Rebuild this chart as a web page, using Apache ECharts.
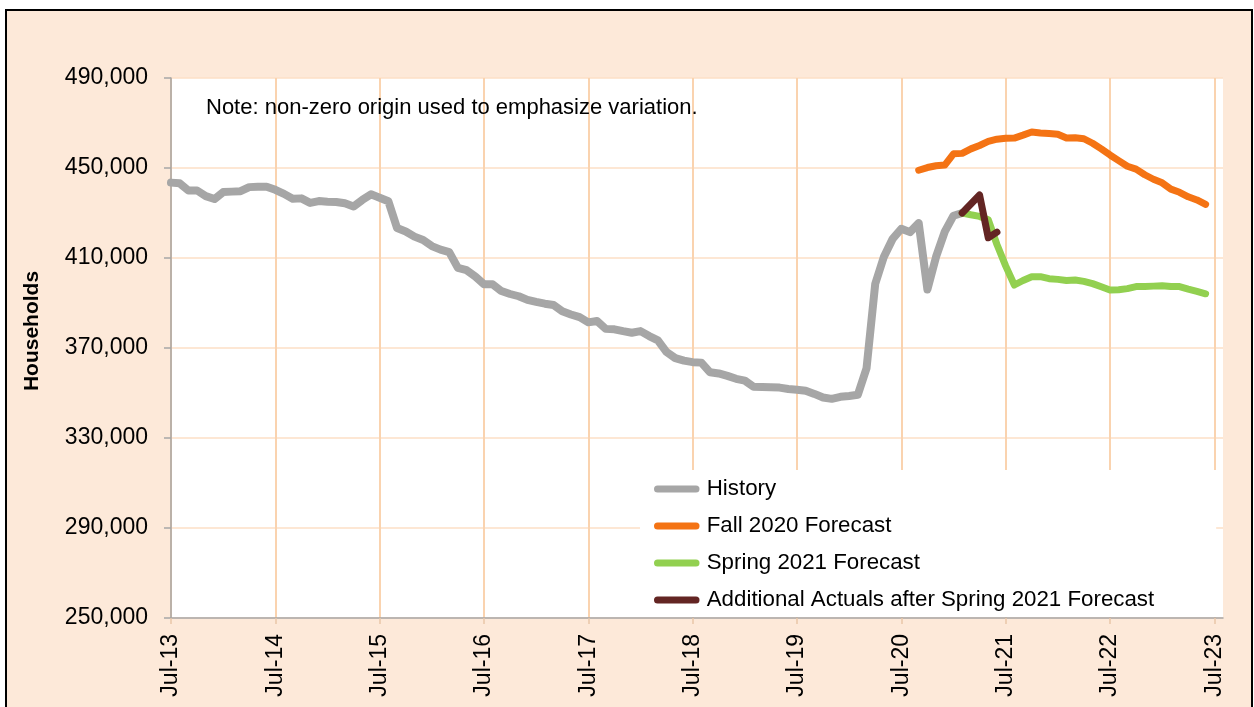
<!DOCTYPE html>
<html>
<head>
<meta charset="utf-8">
<script src="https://cdn.jsdelivr.net/npm/echarts@6/dist/echarts.min.js"></script>
<style>
  html, body { margin: 0; padding: 0; background: #fff; }
  #frame { position: absolute; left: 5px; top: 9px; width: 1244px; height: 720px; background: #FDE9D9; border: 2px solid #000; }
  #chart { position: absolute; left: 0; top: 0; width: 1254px; height: 707px; }
</style>
</head>
<body>
<div id="frame"></div>
<div id="chart"></div>
<script>
// monthly categories, Jul-13 .. Aug-23
const monthNames = ['Jan', 'Feb', 'Mar', 'Apr', 'May', 'Jun', 'Jul', 'Aug', 'Sep', 'Oct', 'Nov', 'Dec']
const categories = []
for (let k = 0; k < 122; k++) {
  const m = (6 + k) % 12
  const yy = 13 + Math.floor((6 + k) / 12)
  categories.push(monthNames[m] + '-' + yy)
}
const tickLabels = ['Jul-13', 'Jul-14', 'Jul-15', 'Jul-16', 'Jul-17', 'Jul-18', 'Jul-19', 'Jul-20', 'Jul-21', 'Jul-22', 'Jul-23']

// History: Jul-13 .. Feb-21
const history = [
  443500, 443200, 440000, 440000, 437500, 436200, 439300, 439500, 439700, 441500, 441700, 441700,
  440300, 438500, 436300, 436500, 434500, 435300, 435000, 434900, 434300, 432900, 435800, 438300,
  436800, 435200, 423300, 421800, 419500, 418000, 415300, 413700, 412600, 405600, 404600, 401800,
  398300, 398300, 395300, 394000, 393000, 391400, 390500, 389700, 389100, 386300, 384900, 383700,
  381400, 382000, 378500, 378300, 377500, 376800, 377500, 375300, 373400, 368200, 365500, 364400,
  363700, 363500, 359200, 358700, 357600, 356300, 355500, 352800, 352700, 352600, 352400, 351800,
  351400, 351000, 349600, 348000, 347400, 348300, 348700, 349200, 361000, 398500, 410600, 418500,
  423000, 421500, 425500, 396000, 410600, 421700, 428800, 430000
]
const historyStart = 'Jul-13'

// Fall 2020 Forecast: Sep-20 .. Jun-23
const fall2020 = [
  449000, 450200, 451000, 451300, 456300, 456500, 458500, 460000, 461800, 462800, 463200, 463300,
  464600, 466000, 465600, 465300, 465000, 463300, 463400, 463000, 461000, 458500, 455800, 453300,
  450800, 449500, 447000, 445000, 443400, 440600, 439200, 437200, 435800, 433800
]
const fall2020Start = 'Sep-20'

// Spring 2021 Forecast: Feb-21 .. Jun-23
const spring2021 = [
  430000, 429200, 428500, 427000, 416000, 406500, 398000, 400000, 401700, 401700, 400800, 400500,
  400000, 400200, 399600, 398600, 397200, 395800, 395900, 396400, 397300, 397300, 397500, 397700,
  397300, 397300, 396200, 395200, 394100
]
const spring2021Start = 'Feb-21'

// Additional Actuals after Spring 2021 Forecast: Feb-21 .. Jun-21
const additional = [430000, 434000, 438000, 419000, 421500]
const additionalStart = 'Feb-21'

function place(values, startLabel) {
  const out = categories.map(() => null)
  const s = categories.indexOf(startLabel)
  values.forEach((v, k) => { out[s + k] = v })
  return out
}

const FONT = 'Liberation Sans, Arial, sans-serif'
const isYearTick = (index) => tickLabels.indexOf(categories[index]) >= 0

function lineSeries(name, color, width, values, start) {
  return {
    name: name,
    type: 'line',
    data: place(values, start),
    showSymbol: false,
    symbol: 'none',
    connectNulls: false,
    itemStyle: { color: color },
    lineStyle: { color: color, width: width, cap: 'round', join: 'round' },
    emphasis: { disabled: true }
  }
}

const chart = echarts.init(document.getElementById('chart'), null, { renderer: 'canvas' })
chart.setOption({
  backgroundColor: 'transparent',
  animation: false,
  textStyle: { fontFamily: FONT },
  grid: {
    left: 171, right: 31, top: 78, bottom: 89,
    show: true, backgroundColor: '#ffffff', borderWidth: 0,
    outerBoundsMode: 'none'
  },
  graphic: [{
    type: 'text',
    left: 206,
    top: 97,
    z: 100,
    style: { text: 'Note: non-zero origin used to emphasize variation.', font: '22px ' + FONT, fill: '#000' }
  }],
  legend: {
    orient: 'vertical',
    left: 640,
    top: 470,
    padding: [8, 62, 6, 14],
    backgroundColor: '#ffffff',
    itemWidth: 52,
    itemHeight: 7,
    itemGap: 15,
    selectedMode: false,
    icon: 'path://M4,0H48A4,4,0,0,1,48,8H4A4,4,0,0,1,4,0Z',
    textStyle: { fontSize: 22.3, color: '#000', fontFamily: FONT, lineHeight: 22, padding: [0, 0, 0, -1] },
    data: ['History', 'Fall 2020 Forecast', 'Spring 2021 Forecast', 'Additional Actuals after Spring 2021 Forecast']
  },
  xAxis: {
    type: 'category',
    data: categories,
    boundaryGap: false,
    axisLine: { lineStyle: { color: '#A6A6A6', width: 1.5 } },
    axisTick: { show: true, interval: isYearTick, length: 6, lineStyle: { color: '#E9C6A8', width: 1.5 } },
    axisLabel: { interval: isYearTick, rotate: 90, fontSize: 23, color: '#000', margin: 16, fontFamily: FONT },
    splitLine: { show: true, interval: isYearTick, lineStyle: { color: '#FAD3AF', width: 2 } }
  },
  yAxis: {
    type: 'value',
    min: 250000,
    max: 490000,
    interval: 40000,
    name: 'Households',
    nameLocation: 'middle',
    nameGap: 128,
    nameTextStyle: { fontSize: 21, fontWeight: 'bold', color: '#000', fontFamily: FONT, padding: [0, 0, 0, 34] },
    axisLine: { show: true, lineStyle: { color: '#A6A6A6', width: 1.5 } },
    axisTick: { show: true, length: 7, lineStyle: { color: '#A6A6A6', width: 1.5 } },
    axisLabel: { fontSize: 23, color: '#000', margin: 23, fontFamily: FONT, formatter: v => v.toLocaleString('en-US') },
    splitLine: { show: true, lineStyle: { color: '#FCDFC6', width: 1.5 } }
  },
  series: [
    lineSeries('History', '#A6A6A6', 8, history, historyStart),
    lineSeries('Fall 2020 Forecast', '#F47314', 7, fall2020, fall2020Start),
    lineSeries('Spring 2021 Forecast', '#92D050', 7, spring2021, spring2021Start),
    lineSeries('Additional Actuals after Spring 2021 Forecast', '#632523', 7, additional, additionalStart)
  ]
})
</script>
</body>
</html>
